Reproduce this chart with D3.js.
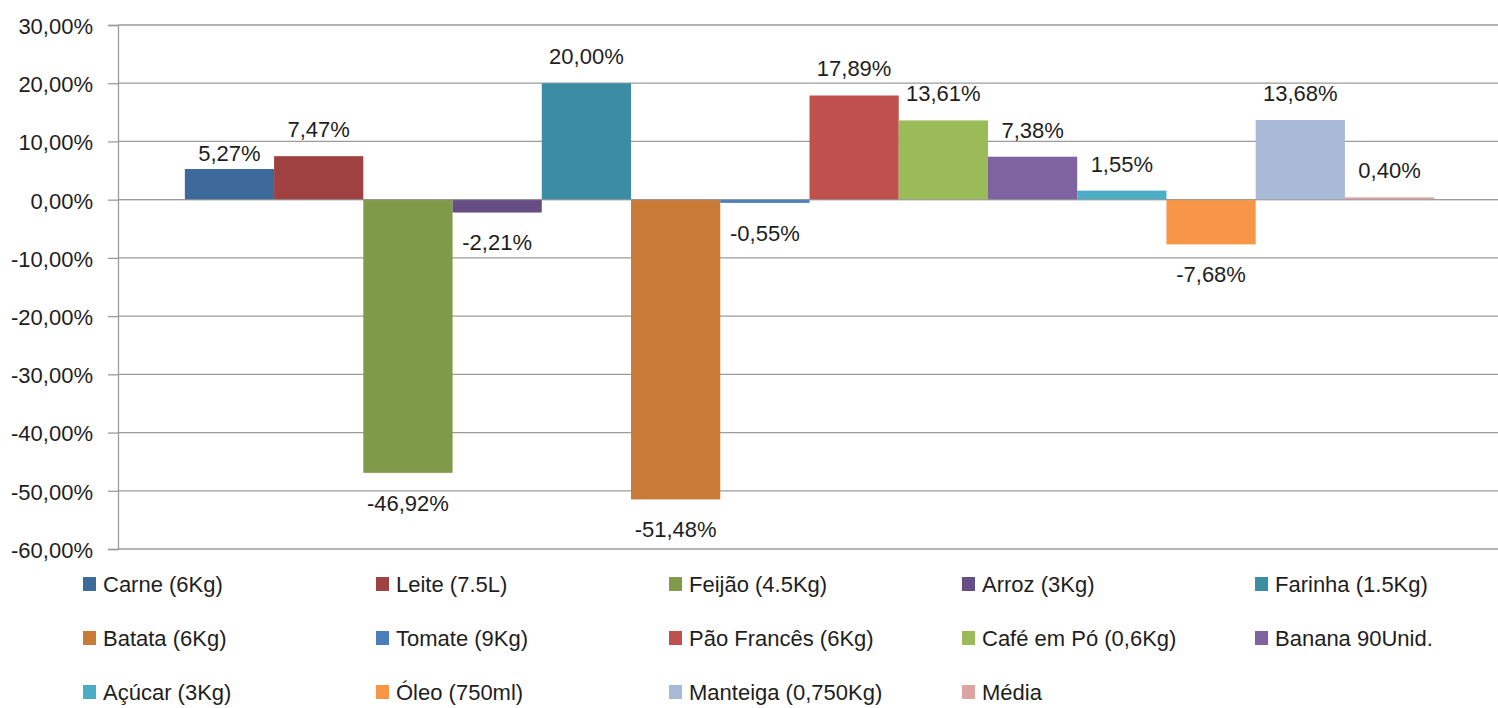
<!DOCTYPE html>
<html>
<head>
<meta charset="utf-8">
<script src="https://cdn.jsdelivr.net/npm/d3@7"></script>
<style>
  html, body { margin: 0; padding: 0; background: #fff; }
  svg { display: block; }
  text { font-family: "Liberation Sans", Arial, sans-serif; fill: #1e1e1e; }
</style>
</head>
<body>
<svg id="chart" width="1498" height="708"></svg>
<script>
// ---- data ----
const categories = [""];
const seriesNames = [
  "Carne (6Kg)", "Leite (7.5L)", "Feijão (4.5Kg)", "Arroz (3Kg)", "Farinha (1.5Kg)",
  "Batata (6Kg)", "Tomate (9Kg)", "Pão Francês (6Kg)", "Café em Pó (0,6Kg)", "Banana 90Unid.",
  "Açúcar (3Kg)", "Óleo (750ml)", "Manteiga (0,750Kg)", "Média"
];
const seriesValues = [5.27, 7.47, -46.92, -2.21, 20.00, -51.48, -0.55, 17.89, 13.61, 7.38, 1.55, -7.68, 13.68, 0.40];
const seriesColors = [
  "#3E6A9B", "#9E4140", "#7F9A48", "#664E85", "#3C8DA3",
  "#CA7A37", "#4A7EBB", "#C0504D", "#9BBB59", "#7F63A1",
  "#4BACC6", "#F79646", "#A9BAD8", "#DCA4A3"
];
const yTicks = [-60, -50, -40, -30, -20, -10, 0, 10, 20, 30];

// ---- layout ----
const svg = d3.select("#chart");
const plot = { left: 118, right: 1501, top: 25, bottom: 549 };
const fmt = v => v.toFixed(2).replace(".", ",") + "%";
const labelNudge = { "Carne (6Kg)": 11 };
const FS = 22;

const y = d3.scaleLinear().domain([-60, 30]).range([plot.bottom, plot.top]);
const x0 = d3.scaleBand().domain(categories).range([plot.left, plot.right])
  .paddingInner(0).paddingOuter(0.0535);
const x1 = d3.scaleBand().domain(seriesNames).range([0, x0.bandwidth()]).padding(0);

// gridlines
svg.append("g").selectAll("line").data(yTicks).join("line")
  .attr("x1", plot.left).attr("x2", plot.right)
  .attr("y1", d => y(d)).attr("y2", d => y(d))
  .attr("stroke", "#9b9b9b").attr("stroke-width", 1.3);

// y axis
const yAxis = d3.axisLeft(y).tickValues(yTicks).tickFormat(fmt).tickSize(10).tickPadding(15);
const ag = svg.append("g").attr("transform", `translate(${plot.left},0)`).call(yAxis);
ag.select(".domain").attr("stroke", "#9b9b9b").attr("stroke-width", 1.3);
ag.selectAll(".tick line").attr("stroke", "#9b9b9b").attr("stroke-width", 1.3);
ag.selectAll(".tick text").attr("font-size", FS).attr("fill", "#1e1e1e")
  .attr("font-family", "'Liberation Sans', Arial, sans-serif").attr("dy", "0.38em");

// bars
const data = seriesNames.map((n, i) => ({ name: n, value: seriesValues[i], color: seriesColors[i], cat: categories[0] }));
svg.append("g").selectAll("rect").data(data).join("rect")
  .attr("x", d => x0(d.cat) + x1(d.name))
  .attr("width", x1.bandwidth())
  .attr("y", d => y(Math.max(0, d.value)))
  .attr("height", d => Math.abs(y(d.value) - y(0)))
  .attr("fill", d => d.color);

// zero line on top
svg.append("line").attr("x1", plot.left).attr("x2", plot.right)
  .attr("y1", y(0)).attr("y2", y(0)).attr("stroke", "#9b9b9b").attr("stroke-width", 1.3)
  .attr("opacity", 0.6);

// labels
svg.append("g").selectAll("text").data(data).join("text")
  .attr("x", d => x0(d.cat) + x1(d.name) + x1.bandwidth() / 2)
  .attr("y", d => d.value >= 0 ? y(d.value) - 27 + (labelNudge[d.name] || 0) : y(d.value) + 30)
  .attr("dy", "0.36em")
  .attr("text-anchor", "middle")
  .attr("font-size", FS)
  .text(d => fmt(d.value));

// legend
const legCols = 5, colW = 293, legX = 83, rowY = [584, 638, 692];
const leg = svg.append("g").selectAll("g").data(data).join("g")
  .attr("transform", (d, i) => `translate(${legX + (i % legCols) * colW},${rowY[Math.floor(i / legCols)]})`);
leg.append("rect").attr("x", 0).attr("y", -7).attr("width", 13).attr("height", 14).attr("fill", d => d.color);
leg.append("text").attr("x", 20).attr("y", 0).attr("dy", "0.36em").attr("font-size", FS).text(d => d.name);
</script>
</body>
</html>
